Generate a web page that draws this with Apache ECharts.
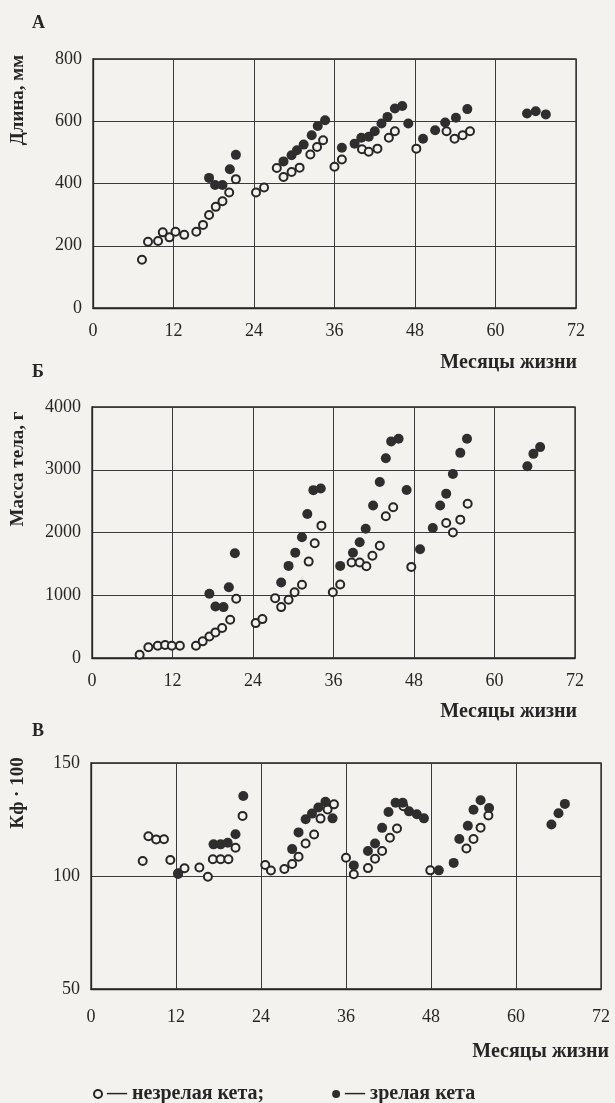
<!DOCTYPE html>
<html>
<head>
<meta charset="utf-8">
<script src="https://cdn.jsdelivr.net/npm/echarts@6/dist/echarts.min.js"></script>
<style>
html,body{margin:0;padding:0;background:#f4f2ee;}
#chart{width:615px;height:1103px;}
</style>
</head>
<body>
<div id="chart"></div>
<script>
// ---- Data (months of life, value) ----
const monthTicks = [0, 12, 24, 36, 48, 60, 72];

// Panel A: length, mm
const lengthImmature = [[7.3,155],[8.2,213],[9.7,215],[10.4,243],[11.4,227],[12.3,245],[13.6,235],[15.4,245],[16.4,267],[17.3,299],[18.3,325],[19.3,343],[20.3,371],[21.3,414],[24.3,371],[25.5,387],[27.4,450],[28.4,421],[29.6,437],[30.8,451],[32.4,493],[33.4,517],[34.3,539],[36.0,454],[37.1,477],[40.1,510],[41.1,502],[42.4,512],[44.1,547],[45.0,568],[48.2,512],[52.7,568],[53.9,544],[55.1,555],[56.2,568]];
const lengthMature = [[17.3,418],[18.2,395],[19.3,395],[20.4,446],[21.3,492],[28.4,471],[29.6,491],[30.4,507],[31.4,525],[32.6,555],[33.5,585],[34.6,603],[37.1,515],[39.0,528],[40.0,547],[41.1,550],[42.0,568],[43.0,593],[43.9,614],[45.0,641],[46.1,649],[47.0,593],[49.2,544],[51.0,571],[52.5,596],[54.1,611],[55.8,639],[64.7,625],[66.0,632],[67.5,622]];

// Panel B: body mass, g
const massImmature = [[7.1,53],[8.4,170],[9.8,196],[10.9,207],[11.9,196],[13.1,196],[15.5,196],[16.5,265],[17.5,344],[18.4,408],[19.4,477],[20.6,609],[21.5,943],[24.4,556],[25.4,620],[27.3,954],[28.2,811],[29.3,927],[30.2,1049],[31.3,1166],[32.3,1536],[33.2,1828],[34.2,2109],[35.9,1048],[37.0,1172],[38.7,1522],[39.9,1522],[40.9,1463],[41.8,1630],[42.9,1790],[43.8,2258],[44.9,2403],[47.6,1452],[52.8,2152],[53.8,2000],[54.9,2205],[56.0,2458]];
const massMature = [[17.5,1023],[18.4,821],[19.6,811],[20.4,1128],[21.3,1669],[28.2,1203],[29.3,1468],[30.3,1679],[31.3,1923],[32.1,2294],[33.0,2675],[34.1,2702],[37.0,1468],[38.9,1677],[39.9,1845],[40.8,2060],[41.9,2430],[42.9,2806],[43.8,3184],[44.6,3452],[45.7,3495],[46.9,2677],[48.9,1732],[50.8,2071],[51.9,2430],[52.8,2619],[53.8,2931],[54.9,3269],[55.9,3495],[64.9,3055],[65.8,3253],[66.8,3361]];

// Panel C: condition factor x100
const kfImmature = [[7.3,106.6],[8.1,117.6],[9.2,116.2],[10.3,116.3],[11.2,107.1],[12.3,101.2],[13.2,103.4],[15.3,103.8],[16.5,99.7],[17.2,107.4],[18.3,107.4],[19.4,107.4],[20.4,112.5],[21.4,126.6],[24.6,104.9],[25.4,102.4],[27.3,103.1],[28.4,105.3],[29.3,108.5],[30.3,114.4],[31.5,118.4],[32.4,125.4],[33.4,129.4],[34.3,131.7],[36.0,108.1],[37.1,100.8],[39.1,103.5],[40.1,107.6],[41.1,111.1],[42.2,116.9],[43.2,121.0],[44.1,130.9],[47.9,102.5],[53.0,112.2],[54.0,116.4],[55.0,121.4],[56.1,126.8]];
const kfMature = [[12.3,100.9],[17.3,114.0],[18.3,114.0],[19.3,114.7],[20.4,118.5],[21.5,135.4],[28.4,111.9],[29.3,119.3],[30.3,125.1],[31.2,127.6],[32.1,130.3],[33.1,132.8],[34.1,125.5],[37.1,104.7],[39.1,111.1],[40.1,114.4],[41.1,121.3],[42.0,128.3],[43.0,132.4],[44.0,132.4],[44.9,128.6],[46.0,127.3],[47.0,125.5],[49.1,102.5],[51.2,105.8],[52.0,116.4],[53.2,122.2],[54.0,129.3],[55.0,133.5],[56.2,130.1],[65.0,122.8],[66.0,127.8],[66.9,131.9]];

const panelLetters = ['А', 'Б', 'В'];
const yNames = ['Длина, мм', 'Масса тела, г', 'Кф · 100'];
const xName = 'Месяцы жизни';
const seriesNames = ['незрелая кета', 'зрелая кета'];

// ---- Styles ----
const INK = '#262626';
const BG = '#f4f2ee';
const SERIF = '"Liberation Serif", "DejaVu Serif", serif';

const grids = [
  {left: 93, top: 59, width: 483, height: 249},
  {left: 92, top: 407, width: 483, height: 251},
  {left: 91, top: 763, width: 510, height: 226}
];
const yCfg = [
  {min: 0, max: 800, interval: 200},
  {min: 0, max: 4000, interval: 1000},
  {min: 50, max: 150, interval: 50}
];
const xLabelMargin = [14, 14, 19];

const chart = echarts.init(document.getElementById('chart'), null, {renderer: 'canvas'});

const option = {
  backgroundColor: BG,
  animation: false,
  grid: grids.map(g => Object.assign({show: true, borderColor: INK, borderWidth: 1.3, backgroundColor: 'transparent'}, g)),
  xAxis: grids.map((g, i) => ({
    gridIndex: i, type: 'value', min: 0, max: 72, interval: 12,
    axisLine: {show: true, lineStyle: {color: INK, width: 1.3}},
    axisTick: {show: false},
    splitLine: {show: true, lineStyle: {color: '#3a3a3a', width: 1}},
    axisLabel: {color: INK, fontFamily: SERIF, fontSize: 18, margin: xLabelMargin[i],
      formatter: v => monthTicks.includes(v) ? String(v) : ''}
  })),
  yAxis: grids.map((g, i) => Object.assign({
    gridIndex: i, type: 'value',
    axisLine: {show: true, lineStyle: {color: INK, width: 1.3}},
    axisTick: {show: false},
    splitLine: {show: true, lineStyle: {color: '#3a3a3a', width: 1}},
    axisLabel: {color: INK, fontFamily: SERIF, fontSize: 18, margin: 11, formatter: v => String(v)}
  }, yCfg[i])),
  legend: {
    data: seriesNames,
    left: 88, top: 1079,
    icon: 'circle', itemWidth: 8, itemHeight: 8, itemGap: 68,
    formatter: n => n === seriesNames[0] ? '— ' + n + ';' : '— ' + n,
    textStyle: {color: INK, fontFamily: SERIF, fontSize: 20, fontWeight: 'bold'}
  },
  series: [],
  graphic: []
};

const sets = [[lengthImmature, lengthMature], [massImmature, massMature], [kfImmature, kfMature]];
sets.forEach((pair, i) => {
  option.series.push({
    name: seriesNames[0], type: 'scatter', xAxisIndex: i, yAxisIndex: i,
    data: pair[0], symbol: 'circle', symbolSize: 8,
    itemStyle: {color: BG, borderColor: INK, borderWidth: 2, opacity: 1}
  });
  option.series.push({
    name: seriesNames[1], type: 'scatter', xAxisIndex: i, yAxisIndex: i,
    data: pair[1], symbol: 'circle', symbolSize: 10,
    itemStyle: {color: '#2e2e2e', opacity: 1}
  });
});

const letterPos = [[32, 23], [32, 372], [32, 731]];
const yNamePos = [[18, 100], [18, 469], [18, 793]];
const xNamePos = [[577, 363], [577, 712], [609, 1052]];
for (let i = 0; i < 3; i++) {
  option.graphic.push({
    type: 'text', x: letterPos[i][0], y: letterPos[i][1],
    style: {text: panelLetters[i], fill: INK, font: 'bold 18px ' + SERIF, align: 'left', verticalAlign: 'middle', textAlign: 'left', textVerticalAlign: 'middle'}
  });
  option.graphic.push({
    type: 'text', x: yNamePos[i][0], y: yNamePos[i][1], rotation: Math.PI / 2,
    style: {text: yNames[i], fill: INK, font: 'bold 19px ' + SERIF, align: 'center', verticalAlign: 'middle', textAlign: 'center', textVerticalAlign: 'middle'}
  });
  option.graphic.push({
    type: 'text', x: xNamePos[i][0], y: xNamePos[i][1],
    style: {text: xName, fill: INK, font: 'bold 20px ' + SERIF, align: 'right', verticalAlign: 'middle', textAlign: 'right', textVerticalAlign: 'middle'}
  });
}

chart.setOption(option);
</script>
</body>
</html>
